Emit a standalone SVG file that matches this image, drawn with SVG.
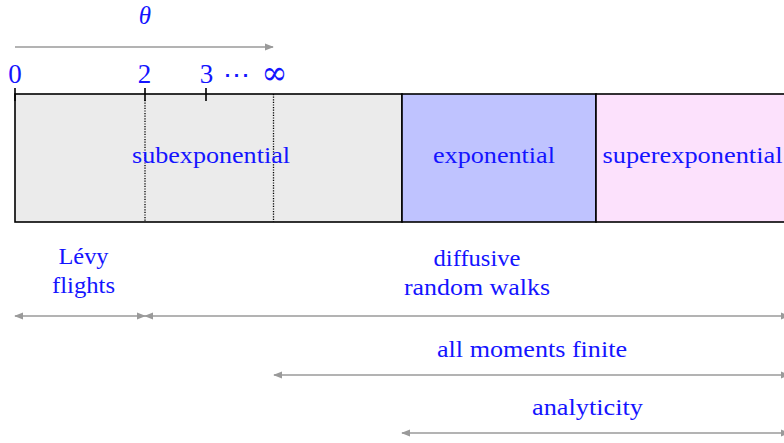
<svg xmlns="http://www.w3.org/2000/svg" width="784" height="443" viewBox="0 0 784 443">
<defs>
<style>
.t{font-family:"Liberation Serif","Times New Roman",serif;fill:#1414ff;font-size:24px;text-anchor:middle}
.m{font-family:"Liberation Serif","Times New Roman",serif;fill:#1414ff;font-size:27px;text-anchor:middle}
.box{stroke:#000;stroke-width:1.6}
.arr{stroke:#9a9a9a;stroke-width:1.6;fill:none}
.tick{stroke:#000;stroke-width:1.6}
.dot{stroke:#000;stroke-width:1.3;stroke-dasharray:1.2 1.4}
</style>
<marker id="ah" viewBox="0 0 10 10" refX="9" refY="5" markerWidth="9" markerHeight="9" markerUnits="userSpaceOnUse" orient="auto-start-reverse">
<path d="M0,1 L10,5 L0,9 z" fill="#9a9a9a"/>
</marker>
</defs>
<rect width="784" height="443" fill="#fff"/>
<g id="subexponential">
<rect class="box" x="15" y="94" width="387" height="128" fill="#ebebeb"/>
<line class="dot" x1="145" y1="100" x2="145" y2="222"/>
<line class="dot" x1="273.5" y1="94" x2="273.5" y2="222"/>
<text class="t" x="211" y="163" textLength="158" lengthAdjust="spacingAndGlyphs">subexponential</text>
</g>
<g id="exponential">
<rect class="box" x="402" y="94" width="194" height="128" fill="#bfc3ff"/>
<text class="t" x="494" y="163" textLength="122" lengthAdjust="spacingAndGlyphs">exponential</text>
</g>
<g id="superexponential">
<rect class="box" x="596" y="94" width="220" height="128" fill="#fce1fc"/>
<text class="t" x="692.5" y="163" textLength="180" lengthAdjust="spacingAndGlyphs">superexponential</text>
</g>
<g id="axis">
<line class="tick" x1="15" y1="88" x2="15" y2="101"/>
<line class="tick" x1="145" y1="88" x2="145" y2="101"/>
<line class="tick" x1="206" y1="88" x2="206" y2="101"/>
<text class="m" x="15" y="83">0</text>
<text class="m" x="144.5" y="83">2</text>
<text class="m" x="206.5" y="83">3</text>
<text class="m" x="236" y="84">⋯</text>
<text class="m" x="274.5" y="84" style="font-family:'DejaVu Serif',serif;font-size:33px" textLength="26" lengthAdjust="spacingAndGlyphs">∞</text>
<text class="m" x="145" y="24" font-style="italic" style="font-size:25px">θ</text>
</g>
<g id="levy">
<text class="t" x="83.5" y="264" textLength="50" lengthAdjust="spacingAndGlyphs">Lévy</text>
<text class="t" x="83.5" y="293" textLength="63" lengthAdjust="spacingAndGlyphs">flights</text>
</g>
<g id="diffusive">
<text class="t" x="477" y="266" textLength="87" lengthAdjust="spacingAndGlyphs">diffusive</text>
<text class="t" x="477" y="295" textLength="146" lengthAdjust="spacingAndGlyphs">random walks</text>
</g>
<g id="moments">
<text class="t" x="532" y="357" textLength="190" lengthAdjust="spacingAndGlyphs">all moments finite</text>
</g>
<g id="analyticity">
<text class="t" x="587.5" y="415" textLength="111" lengthAdjust="spacingAndGlyphs">analyticity</text>
</g>
<g id="connectors">
<line class="arr" x1="15" y1="47" x2="273" y2="47" marker-end="url(#ah)"/>
<line class="arr" x1="15" y1="316" x2="145" y2="316" marker-start="url(#ah)" marker-end="url(#ah)"/>
<line class="arr" x1="145" y1="316" x2="789" y2="316" marker-start="url(#ah)" marker-end="url(#ah)"/>
<line class="arr" x1="274" y1="375" x2="789" y2="375" marker-start="url(#ah)" marker-end="url(#ah)"/>
<line class="arr" x1="402" y1="433" x2="789" y2="433" marker-start="url(#ah)" marker-end="url(#ah)"/>
</g>
</svg>
